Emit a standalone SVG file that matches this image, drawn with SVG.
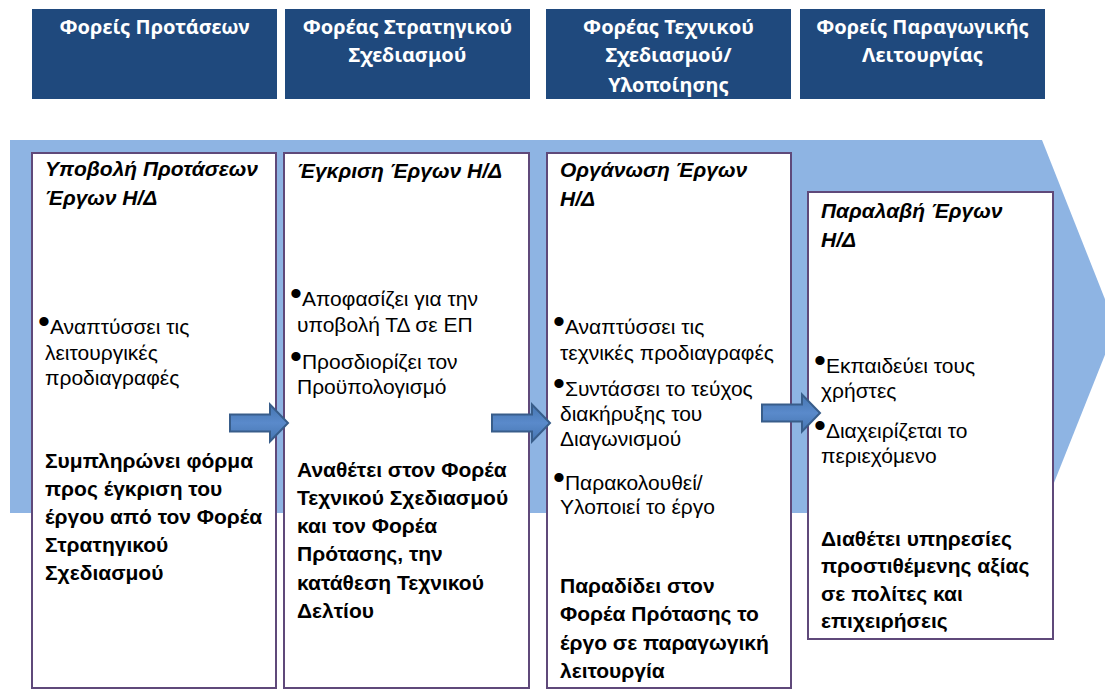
<svg xmlns="http://www.w3.org/2000/svg" width="1105" height="689" viewBox="0 0 1105 689">
  <style>
    .hdr { fill: #1F497D; }
    .hdr-text { font-family: "Noto Sans", "DejaVu Sans", sans-serif; font-weight: bold; font-size: 20px; fill: #FFFFFF; text-anchor: middle; }
    .step { fill: #FFFFFF; stroke: #5F497A; stroke-width: 2; }
    .title { font-family: "Liberation Sans", Arial, sans-serif; font-weight: bold; font-style: italic; font-size: 21px; fill: #000000; }
    .item { font-family: "Liberation Sans", Arial, sans-serif; font-size: 21px; fill: #000000; }
    .dot { font-size: 34px; }
    .strong { font-family: "Liberation Sans", Arial, sans-serif; font-weight: bold; font-size: 21px; fill: #000000; }
    .flow { fill: url(#arrow-fill); stroke: #385D8A; stroke-width: 2; stroke-linejoin: miter; }
  </style>
  <defs>
    <clipPath id="clip-h3"><rect x="546" y="9" width="245" height="90"/></clipPath>
    <linearGradient id="arrow-fill" x1="0" y1="0" x2="0" y2="1">
      <stop offset="0" stop-color="#4575B0"/>
      <stop offset="0.5" stop-color="#5A8ACB"/>
      <stop offset="1" stop-color="#4575B0"/>
    </linearGradient>
    <!-- block arrow pointing right, shaft starts at the origin -->
    <path id="block-arrow" d="M0,-8.5 H40 V-18.5 L58,0 L40,18.5 V8.5 H0 Z"/>
  </defs>

  <rect width="1105" height="689" fill="#FFFFFF"/>

  <!-- column headers -->
  <g id="header-1">
    <rect class="hdr" x="32" y="9" width="245" height="90"/>
    <text class="hdr-text" x="154.5" y="34">Φορείς Προτάσεων</text>
  </g>
  <g id="header-2">
    <rect class="hdr" x="285" y="9" width="245" height="90"/>
    <text class="hdr-text" x="407.5" y="34">Φορέας Στρατηγικού</text>
    <text class="hdr-text" x="407.5" y="62">Σχεδιασμού</text>
  </g>
  <g id="header-3">
    <rect class="hdr" x="546" y="9" width="245" height="90"/>
    <g clip-path="url(#clip-h3)">
      <text class="hdr-text" x="668.5" y="34">Φορέας Τεχνικού</text>
      <text class="hdr-text" x="668.5" y="62">Σχεδιασμού/</text>
      <text class="hdr-text" x="668.5" y="92">Υλοποίησης</text>
    </g>
  </g>
  <g id="header-4">
    <rect class="hdr" x="800" y="9" width="245" height="90"/>
    <text class="hdr-text" x="922.5" y="34">Φορείς Παραγωγικής</text>
    <text class="hdr-text" x="922.5" y="62">Λειτουργίας</text>
  </g>

  <!-- background process chevron -->
  <polygon id="process-band" points="10,140 1042,140 1116,327 1042,513 10,513" fill="#8EB4E3"/>

  <!-- step 1 -->
  <g id="step-submit">
    <rect class="step" x="32" y="153" width="244" height="535"/>
    <text class="title" x="45" y="176">Υποβολή Προτάσεων</text>
    <text class="title" x="45" y="205">Έργων Η/Δ</text>
    <text class="item" x="38" y="334"><tspan class="dot" dy="-1">•</tspan><tspan dy="1">Αναπτύσσει τις</tspan></text>
    <text class="item" x="45" y="360">λειτουργικές</text>
    <text class="item" x="45" y="385">προδιαγραφές</text>
    <text class="strong" x="45" y="468">Συμπληρώνει φόρμα</text>
    <text class="strong" x="45" y="496">προς έγκριση του</text>
    <text class="strong" x="45" y="524">έργου από τον Φορέα</text>
    <text class="strong" x="45" y="552">Στρατηγικού</text>
    <text class="strong" x="45" y="580">Σχεδιασμού</text>
  </g>

  <!-- step 2 -->
  <g id="step-approve">
    <rect class="step" x="284" y="153" width="245" height="535"/>
    <text class="title" x="297" y="178">Έγκριση Έργων Η/Δ</text>
    <text class="item" x="290" y="306"><tspan class="dot" dy="-1">•</tspan><tspan dy="1">Αποφασίζει για την</tspan></text>
    <text class="item" x="297" y="332">υποβολή ΤΔ σε ΕΠ</text>
    <text class="item" x="290" y="369"><tspan class="dot" dy="-1">•</tspan><tspan dy="1">Προσδιορίζει τον</tspan></text>
    <text class="item" x="297" y="394">Προϋπολογισμό</text>
    <text class="strong" x="297" y="477">Αναθέτει στον Φορέα</text>
    <text class="strong" x="297" y="505">Τεχνικού Σχεδιασμού</text>
    <text class="strong" x="297" y="533">και τον Φορέα</text>
    <text class="strong" x="297" y="561">Πρότασης, την</text>
    <text class="strong" x="297" y="590">κατάθεση Τεχνικού</text>
    <text class="strong" x="297" y="618">Δελτίου</text>
  </g>

  <!-- step 3 -->
  <g id="step-organise">
    <rect class="step" x="547" y="153" width="244" height="535"/>
    <text class="title" x="560" y="177">Οργάνωση Έργων</text>
    <text class="title" x="560" y="206">Η/Δ</text>
    <text class="item" x="553" y="334"><tspan class="dot" dy="-1">•</tspan><tspan dy="1">Αναπτύσσει τις</tspan></text>
    <text class="item" x="560" y="360">τεχνικές προδιαγραφές</text>
    <text class="item" x="553" y="396"><tspan class="dot" dy="-1">•</tspan><tspan dy="1">Συντάσσει το τεύχος</tspan></text>
    <text class="item" x="560" y="421">διακήρυξης του</text>
    <text class="item" x="560" y="446">Διαγωνισμού</text>
    <text class="item" x="553" y="490"><tspan class="dot" dy="-1">•</tspan><tspan dy="1">Παρακολουθεί/</tspan></text>
    <text class="item" x="560" y="514">Υλοποιεί το έργο</text>
    <text class="strong" x="560" y="593">Παραδίδει στον</text>
    <text class="strong" x="560" y="621">Φορέα Πρότασης το</text>
    <text class="strong" x="560" y="650">έργο σε παραγωγική</text>
    <text class="strong" x="560" y="678">λειτουργία</text>
  </g>

  <!-- step 4 -->
  <g id="step-receive">
    <rect class="step" x="808" y="192" width="245" height="447"/>
    <text class="title" x="821" y="218">Παραλαβή Έργων</text>
    <text class="title" x="821" y="247">Η/Δ</text>
    <text class="item" x="814" y="373"><tspan class="dot" dy="-1">•</tspan><tspan dy="1">Εκπαιδεύει τους</tspan></text>
    <text class="item" x="821" y="398">χρήστες</text>
    <text class="item" x="814" y="438"><tspan class="dot" dy="-1">•</tspan><tspan dy="1">Διαχειρίζεται το</tspan></text>
    <text class="item" x="821" y="463">περιεχόμενο</text>
    <text class="strong" x="821" y="546">Διαθέτει υπηρεσίες</text>
    <text class="strong" x="821" y="573">προστιθέμενης αξίας</text>
    <text class="strong" x="821" y="601">σε πολίτες και</text>
    <text class="strong" x="821" y="628">επιχειρήσεις</text>
  </g>

  <!-- connectors between steps -->
  <g id="connectors">
    <use href="#block-arrow" class="flow" transform="translate(230,423)"/>
    <use href="#block-arrow" class="flow" transform="translate(492,423)"/>
    <use href="#block-arrow" class="flow" transform="translate(762,413)"/>
  </g>
</svg>
